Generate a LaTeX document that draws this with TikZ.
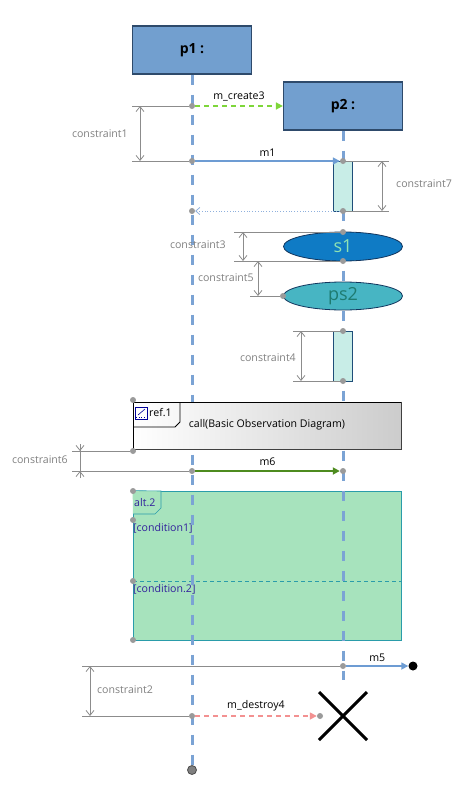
\documentclass[tikz,border=0pt]{standalone}
\usepackage{fontspec}
\setmainfont{Open Sans}
\usetikzlibrary{arrows.meta,shapes.geometric}
\definecolor{objfill}{HTML}{729FCF}
\definecolor{objline}{HTML}{2E4A6B}
\definecolor{lifeblue}{HTML}{7BA3D4}
\definecolor{dotgray}{HTML}{9A9A9A}
\definecolor{cgray}{HTML}{8C8C8C}
\definecolor{ctxt}{HTML}{808080}
\definecolor{execfill}{HTML}{C8EDE7}
\definecolor{execline}{HTML}{1F4E79}
\definecolor{createcol}{HTML}{7ED63A}
\definecolor{msgblue}{HTML}{6D9CD3}
\definecolor{retblue}{HTML}{8FB0DD}
\definecolor{sfill}{HTML}{0F7BC5}
\definecolor{stext}{HTML}{8FE3B3}
\definecolor{psfill}{HTML}{47B5C3}
\definecolor{pstext}{HTML}{1E7B70}
\definecolor{ellline}{HTML}{12365E}
\definecolor{msixcol}{HTML}{4E8B1F}
\definecolor{altfill}{HTML}{A7E3BD}
\definecolor{altline}{HTML}{2A9CAA}
\definecolor{alttext}{HTML}{32209C}
\definecolor{destroycol}{HTML}{F39191}
\begin{document}
\begin{tikzpicture}[x=1pt,y=-1pt,font=\fontsize{10.6}{12.5}\selectfont,
gdot/.style={circle,fill=dotgray,inner sep=0pt,minimum size=6pt},
obj/.style={draw=objline,fill=objfill,line width=1.2pt,minimum width=119pt,minimum height=48pt,font=\fontsize{14}{16}\selectfont\bfseries},
life/.style={lifeblue,line width=3pt,dash pattern=on 10pt off 10pt},
execbar/.style={draw=execline,fill=execfill,line width=0.8pt,minimum width=19pt,inner sep=0pt},
statenode/.style={ellipse,draw=ellline,line width=0.8pt,minimum width=119pt,inner sep=0pt,font=\fontsize{18}{20}\selectfont},
cline/.style={cgray,line width=0.8pt},
cdim/.style={cgray,line width=0.8pt,{Straight Barb[length=5pt,width=8pt]}-{Straight Barb[length=5pt,width=8pt]}},
ctext/.style={text=ctxt},
msg/.style={line width=1.6pt,-{Triangle[length=7pt,width=7pt]}},
mlabel/.style={above,inner sep=4pt,text=black}]
\useasboundingbox (0,0) rectangle (473,811);

% alt frame
\node (alt) at (267,565.5) [draw=altline,fill=altfill,line width=0.8pt,minimum width=268pt,minimum height=149pt,inner sep=0pt] {};
\draw[altline,fill=altfill,line width=0.6pt] (alt.north west) -- (161,491) -- (161,508) -- (155,514) -- (133,514);
\node (altlabel) at (134,503) [anchor=west,text=alttext,inner sep=0pt] {alt.2};
\node (cond1) at (133,528) [anchor=west,text=alttext,inner sep=0pt] {[condition1]};
\node (cond2) at (133,589) [anchor=west,text=alttext,inner sep=0pt] {[condition.2]};
\coordinate (dv0) at (133,581);
\coordinate (dv1) at (401,581);
\draw[altline,line width=0.8pt,dash pattern=on 4pt off 3pt] (dv0) -- (dv1);

% lifelines
\node (p1) at (192,50) [obj] {p1 :};
\node (p2) at (343,106) [obj] {p2 :};
\node (e1) at (192,770) [circle,draw=black!70,fill=gray,line width=0.8pt,minimum size=9pt,inner sep=0pt] {};
\coordinate (e2) at (343,680);
\draw[life] (p1) -- (e1);
\draw[life] (p2) -- (e2);

% execution bars and states
\node (x1) at (343,186) [execbar,minimum height=50pt] {};
\node (x2) at (343,356) [execbar,minimum height=50pt] {};
\node (s1) at (343,246.5) [statenode,fill=sfill,text=stext,minimum height=29pt] {s1};
\node (ps2) at (343,296) [statenode,fill=psfill,text=pstext,minimum height=28pt] {ps2};

% interaction use
\node (ref) at (267,425.5) [draw=black,line width=0.8pt,left color=white,right color=gray!40,minimum width=268pt,minimum height=47pt,inner sep=0pt] {};
\draw[black!75,line width=1.6pt] (ref.north east) -- (ref.south east) -- (ref.south west);
\draw[line width=0.8pt] (133,427) -- (175,427) -- (180,422) -- (180,402);
\draw[blue!60!black,fill=white,line width=0.6pt] (135,407) rectangle (147,419);
\draw[blue!60!black,line width=0.6pt] (138,415) -- (145,409);
\draw[blue!60!black,line width=0.6pt,dotted] (136,417.5) -- (146,417.5);
\node (reflabel) at (149,413) [anchor=west,inner sep=0pt] {ref.1};
\node (call) at (267,425) {call(Basic Observation Diagram)};

% points
\node (d1) at (192,106) [gdot] {};
\node (d2) at (192,161) [gdot] {};
\node (d3) at (343,161) [gdot] {};
\node (d4) at (343,211) [gdot] {};
\node (d5) at (192,211) [gdot] {};
\node (d6) at (343,232) [gdot] {};
\node (d7) at (343,261) [gdot] {};
\node (d8) at (283,296) [gdot] {};
\node (d9) at (343,331) [gdot] {};
\node (d10) at (343,381) [gdot] {};
\node (d11) at (133,400) [gdot] {};
\node (d12) at (133,451) [gdot] {};
\node (d13) at (192,471) [gdot] {};
\node (d14) at (343,471) [gdot] {};
\node (d15) at (133,491) [gdot] {};
\node (d16) at (133,520) [gdot] {};
\node (d17) at (133,581) [gdot] {};
\node (d18) at (133,640) [gdot] {};
\node (d19) at (343,666) [gdot] {};
\node (d20) at (192,716) [gdot] {};
\node (d21) at (320,716) [gdot] {};
\node (lost) at (413,666) [circle,fill=black,minimum size=9pt,inner sep=0pt] {};

% messages
\draw[msg,createcol,dash pattern=on 5pt off 4pt] (d1) -- (p2) node[mlabel,midway] {m\_create3};
\draw[msg,msgblue] (d2) -- (d3) node[mlabel,midway] {m1};
\draw[retblue,line width=0.8pt,dotted,-{Straight Barb[length=4pt,width=7pt]}] (d4) -- (d5);
\draw[msg,msixcol,line width=2pt] (d13) -- (d14) node[mlabel,midway] {m6};
\draw[msg,msgblue] (d19) -- (lost) node[mlabel,midway] {m5};
\draw[msg,destroycol,dash pattern=on 5pt off 4pt] (d20) -- (d21) node[mlabel,midway] {m\_destroy4};
\draw[line width=3pt] (319,692) -- (367,740);
\draw[line width=3pt] (319,740) -- (367,692);

% constraints
\coordinate (k1a) at (132,106);
\coordinate (k1b) at (132,161);
\draw[cline] (k1a) -- (d1);
\draw[cline] (k1b) -- (d2);
\draw[cdim] (140,106) -- (140,161);
\node (c1) at (128,134) [ctext,anchor=east,inner sep=0pt] {constraint1};

\coordinate (k7a) at (389,161);
\coordinate (k7b) at (389,211);
\draw[cline] (d3) -- (k7a);
\draw[cline] (d4) -- (k7b);
\draw[cdim] (382,161) -- (382,211);
\node (c7) at (396,184) [ctext,anchor=west,inner sep=0pt] {constraint7};

\coordinate (k3a) at (234,232);
\coordinate (k3b) at (234,261);
\draw[cline] (k3a) -- (d6);
\draw[cline] (k3b) -- (d7);
\draw[cdim] (243,232) -- (243,261);
\node (c3) at (226,245) [ctext,anchor=east,inner sep=0pt] {constraint3};

\coordinate (k5) at (250,296);
\draw[cline] (k5) -- (d8);
\draw[cdim] (258,261) -- (258,296);
\node (c5) at (254,278) [ctext,anchor=east,inner sep=0pt] {constraint5};

\coordinate (k4a) at (293,331);
\coordinate (k4b) at (293,381);
\draw[cline] (k4a) -- (d9);
\draw[cline] (k4b) -- (d10);
\draw[cdim] (301,331) -- (301,381);
\node (c4) at (296,358) [ctext,anchor=east,inner sep=0pt] {constraint4};

\coordinate (k6a) at (72,451);
\coordinate (k6b) at (72,471);
\draw[cline] (k6a) -- (d12);
\draw[cline] (k6b) -- (d13);
\draw[cline] (80,444) -- (80,478);
\draw[cline,-{Straight Barb[length=5pt,width=8pt]}] (80,444) -- (80,451);
\draw[cline,-{Straight Barb[length=5pt,width=8pt]}] (80,478) -- (80,471);
\node (c6) at (68,460) [ctext,anchor=east,inner sep=0pt] {constraint6};

\coordinate (k2a) at (82,666);
\coordinate (k2b) at (82,716);
\draw[cline] (k2a) -- (d19);
\draw[cline] (k2b) -- (d20);
\draw[cdim] (90,666) -- (90,716);
\node (c2) at (97,690) [ctext,anchor=west,inner sep=0pt] {constraint2};
\end{tikzpicture}
\end{document}
